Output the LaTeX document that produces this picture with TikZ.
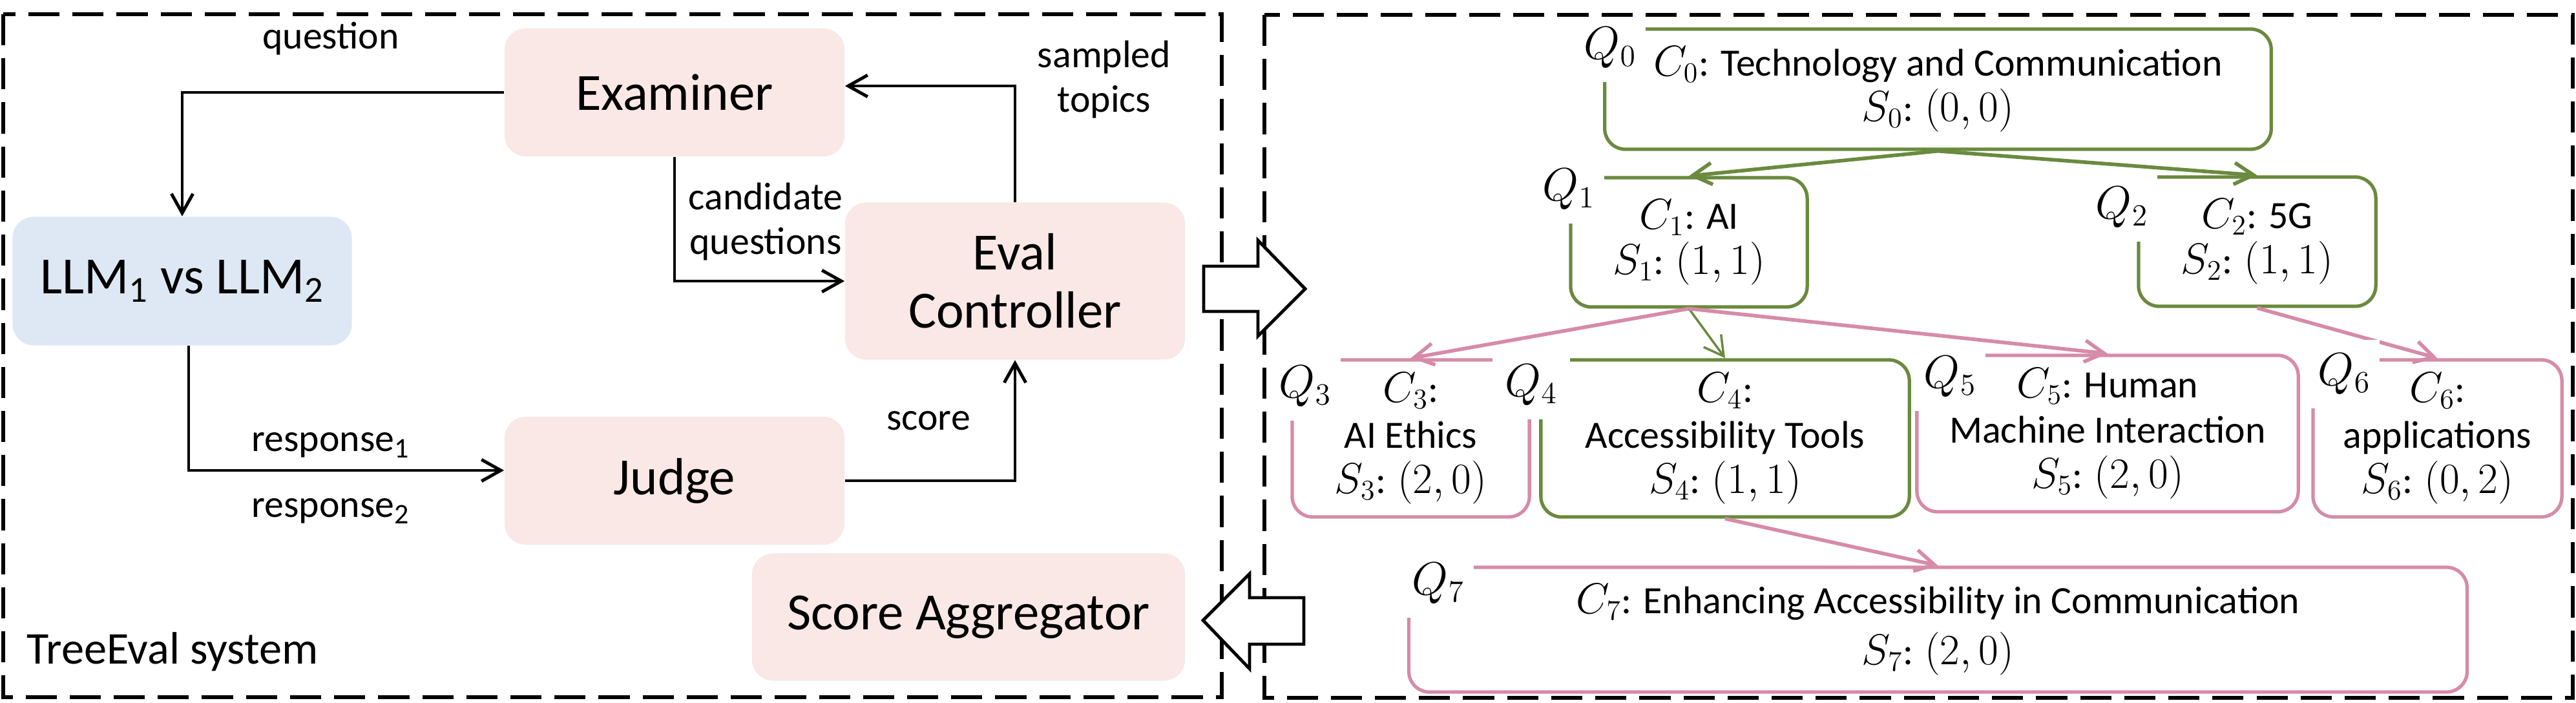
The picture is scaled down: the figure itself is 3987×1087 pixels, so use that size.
\RequirePackage{fix-cm}
\documentclass[tikz,border=0pt]{standalone}
\usepackage{fontspec}
\setmainfont{Carlito}
\usetikzlibrary{arrows.meta}
\definecolor{boxpink}{RGB}{249,232,230}
\definecolor{boxblue}{RGB}{222,232,245}
\definecolor{treegreen}{RGB}{106,138,62}
\definecolor{treepink}{RGB}{214,139,168}
\DeclareMathSizes{17}{19}{12.5}{10}
\DeclareMathSizes{19.5}{20.5}{13.5}{10}

\begin{document}
\begin{tikzpicture}[x=0.01cm, y=-0.01cm,
    >={Straight Barb[length=8.5pt, width=9.5pt]},
    module/.style={fill=boxpink, rounded corners=0.33cm, minimum width=5.26cm, minimum height=1.98cm, align=center, font=\fontsize{23}{25.5}\selectfont},
    flow/.style={line width=1.4pt, ->},
    flowtext/.style={align=center, inner sep=0pt, font=\fontsize{17}{19.6}\selectfont},
    topic/.style={draw=#1, line width=1.5pt, rounded corners=0.32cm, align=center, inner sep=0pt, font=\fontsize{17}{20}\selectfont},
    treeedge/.style={draw=#1, line width=1.6pt, ->},
    qlabel/.style={fill=white, inner sep=0pt, minimum width=1.1cm, minimum height=1.06cm, anchor=south east, font=\fontsize{19.5}{21}\selectfont},
    panel/.style={line width=1.7pt, dash pattern=on 13.7pt off 5.7pt},
    hollow/.style={draw, fill=white, line width=1.4pt}]
    \useasboundingbox (0,0) rectangle (3987,1087);

    \node[module] (exam) at (1044,143) {Examiner};
    \node[module, fill=boxblue, minimum width=5.25cm, minimum height=1.99cm] (llm) at (282,435) {LLM\textsubscript{1} vs LLM\textsubscript{2}};
    \node[module, minimum height=2.43cm] (ctrl) at (1571,435) {Eval\\Controller};
    \node[module] (judge) at (1044,744) {Judge};
    \node[module, minimum width=6.7cm, minimum height=1.97cm] (agg) at (1499,955) {Score Aggregator};

    \node[flowtext] (lquest) at (512,60) {question};
    \node[flowtext] (lresp1) at (512,689) {response\textsubscript{1}};
    \node[flowtext] (lresp2) at (512,791) {response\textsubscript{2}};
    \node[flowtext] (lcand) at (1185,343) {candidate\\questions};
    \node[flowtext] (lsamp) at (1709,123) {sampled\\topics};
    \node[flowtext] (lscore) at (1437,651) {score};
    \node[anchor=west, inner sep=0pt, font=\fontsize{20}{22}\selectfont] (sys) at (41,1009) {TreeEval system};

    \draw[flow] (exam.west) -| (llm.north);
    \draw[flow] ([xshift=0.1cm]llm.south) |- ([yshift=0.16cm]judge.west);
    \draw[flow] (exam.south) |- (ctrl.west);
    \draw[flow] (ctrl.north) |- ([yshift=0.1cm]exam.east);
    \draw[flow] (judge.east) -| (ctrl.south);

    \node[topic=treegreen, minimum width=10.31cm, minimum height=1.86cm] (t0) at (2999.5,138) {$C_0$: Technology and Communication\\$S_0$: $(0,0)$};
    \node[topic=treegreen, minimum width=3.66cm, minimum height=2cm] (t1) at (2614,375) {$C_1$: AI\\$S_1$: $(1,1)$};
    \node[topic=treegreen, minimum width=3.67cm, minimum height=2cm] (t2) at (3493.5,374) {$C_2$: 5G\\$S_2$: $(1,1)$};
    \node[topic=treepink, minimum width=3.67cm, minimum height=2.43cm] (t3) at (2183.5,678.5) {$C_3$:\\AI Ethics\\$S_3$: $(2,0)$};
    \node[topic=treegreen, minimum width=5.7cm, minimum height=2.43cm] (t4) at (2670,678.5) {$C_4$:\\Accessibility Tools\\$S_4$: $(1,1)$};
    \node[topic=treepink, minimum width=5.9cm, minimum height=2.42cm] (t5) at (3262,671) {$C_5$: Human\\Machine Interaction\\$S_5$: $(2,0)$};
    \node[topic=treepink, minimum width=3.85cm, minimum height=2.43cm] (t6) at (3772.5,678.5) {$C_6$:\\applications\\$S_6$: $(0,2)$};
    \node[topic=treepink, minimum width=16.37cm, minimum height=1.93cm] (t7) at (2999.5,974.5) {$C_7$: Enhancing Accessibility in Communication\\[2.3pt]$S_7$: $(2,0)$};

    \draw[treeedge=treegreen] (t0.south) -- (t1.north);
    \draw[treeedge=treegreen] (t0.south) -- (t2.north);
    \draw[treeedge=treepink] (t1.south) -- (t3.north);
    \draw[treeedge=treegreen, line width=1pt] (t1.south) -- (t4.north);
    \draw[treeedge=treepink] (t1.south) -- (t5.north);
    \draw[treeedge=treepink] (t2.south) -- (t6.north);
    \draw[treeedge=treepink] (t4.south) -- (t7.north);

    \node[qlabel] (q0) at (2548,128) {$Q_0$};
    \node[qlabel] (q1) at (2484,347) {$Q_1$};
    \node[qlabel] (q2) at (3340,375) {$Q_2$};
    \node[qlabel] (q3) at (2076,652) {$Q_3$};
    \node[qlabel, minimum width=1.2cm] (q4) at (2431,650) {$Q_4$};
    \node[qlabel] (q5) at (3074,637) {$Q_5$};
    \node[qlabel] (q6) at (3684,633) {$Q_6$};
    \node[qlabel] (q7) at (2282,957) {$Q_7$};

    \draw[panel] (5,22) rectangle (1891,1079);
    \draw[panel] (1957,23) rectangle (3982,1080);

    \draw[hollow] (1863,412) -- (1947,412) -- (1947,372) -- (2020,447) -- (1947,520) -- (1947,482) -- (1863,482) -- cycle;
    \draw[hollow] (2018,925) -- (1934,925) -- (1934,888) -- (1862,960) -- (1934,1035) -- (1934,997) -- (2018,997) -- cycle;
\end{tikzpicture}
\end{document}
